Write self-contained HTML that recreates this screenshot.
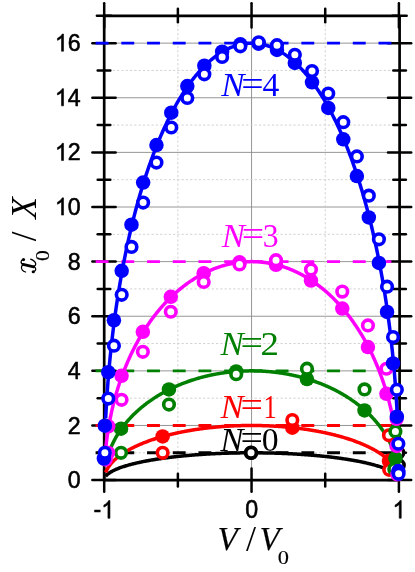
<!DOCTYPE html>
<html><head><meta charset="utf-8"><title>chart</title>
<style>html,body{margin:0;padding:0;background:#fff;}svg{display:block;will-change:transform;}</style>
</head><body>
<svg width="415" height="572" viewBox="0 0 415 572">
<rect width="415" height="572" fill="#fff"/>
<g stroke="#8a8a8a" stroke-width="0.9" fill="none"><line x1="104.20" y1="425.48" x2="398.90" y2="425.48"/><line x1="104.20" y1="370.86" x2="398.90" y2="370.86"/><line x1="104.20" y1="316.24" x2="398.90" y2="316.24"/><line x1="104.20" y1="261.62" x2="398.90" y2="261.62"/><line x1="104.20" y1="207.00" x2="398.90" y2="207.00"/><line x1="104.20" y1="152.38" x2="398.90" y2="152.38"/><line x1="104.20" y1="97.76" x2="398.90" y2="97.76"/><line x1="104.20" y1="43.14" x2="398.90" y2="43.14"/><line x1="251.55" y1="15.83" x2="251.55" y2="480.10"/></g>
<g stroke="#cccccc" stroke-width="0.9" stroke-dasharray="2.2 2.1" fill="none"><line x1="104.20" y1="452.79" x2="398.90" y2="452.79"/><line x1="104.20" y1="398.17" x2="398.90" y2="398.17"/><line x1="104.20" y1="343.55" x2="398.90" y2="343.55"/><line x1="104.20" y1="288.93" x2="398.90" y2="288.93"/><line x1="104.20" y1="234.31" x2="398.90" y2="234.31"/><line x1="104.20" y1="179.69" x2="398.90" y2="179.69"/><line x1="104.20" y1="125.07" x2="398.90" y2="125.07"/><line x1="104.20" y1="70.45" x2="398.90" y2="70.45"/><line x1="177.88" y1="15.83" x2="177.88" y2="480.10"/><line x1="325.22" y1="15.83" x2="325.22" y2="480.10"/></g>
<g stroke="#000" stroke-width="2.70" stroke-linecap="butt" fill="none"><line x1="104.20" y1="15.83" x2="104.20" y2="480.10"/><line x1="399.60" y1="15.83" x2="399.60" y2="480.10"/><line x1="104.20" y1="15.83" x2="399.60" y2="15.83"/><line x1="104.20" y1="480.10" x2="399.60" y2="480.10"/></g>
<g stroke="#000" stroke-width="2.50" stroke-linecap="round" fill="none"><line x1="92.40" y1="480.10" x2="115.60" y2="480.10"/><line x1="388.00" y1="480.10" x2="411.20" y2="480.10"/><line x1="97.70" y1="452.79" x2="110.30" y2="452.79"/><line x1="393.30" y1="452.79" x2="405.90" y2="452.79"/><line x1="92.40" y1="425.48" x2="115.60" y2="425.48"/><line x1="388.00" y1="425.48" x2="411.20" y2="425.48"/><line x1="97.70" y1="398.17" x2="110.30" y2="398.17"/><line x1="393.30" y1="398.17" x2="405.90" y2="398.17"/><line x1="92.40" y1="370.86" x2="115.60" y2="370.86"/><line x1="388.00" y1="370.86" x2="411.20" y2="370.86"/><line x1="97.70" y1="343.55" x2="110.30" y2="343.55"/><line x1="393.30" y1="343.55" x2="405.90" y2="343.55"/><line x1="92.40" y1="316.24" x2="115.60" y2="316.24"/><line x1="388.00" y1="316.24" x2="411.20" y2="316.24"/><line x1="97.70" y1="288.93" x2="110.30" y2="288.93"/><line x1="393.30" y1="288.93" x2="405.90" y2="288.93"/><line x1="92.40" y1="261.62" x2="115.60" y2="261.62"/><line x1="388.00" y1="261.62" x2="411.20" y2="261.62"/><line x1="97.70" y1="234.31" x2="110.30" y2="234.31"/><line x1="393.30" y1="234.31" x2="405.90" y2="234.31"/><line x1="92.40" y1="207.00" x2="115.60" y2="207.00"/><line x1="388.00" y1="207.00" x2="411.20" y2="207.00"/><line x1="97.70" y1="179.69" x2="110.30" y2="179.69"/><line x1="393.30" y1="179.69" x2="405.90" y2="179.69"/><line x1="92.40" y1="152.38" x2="115.60" y2="152.38"/><line x1="388.00" y1="152.38" x2="411.20" y2="152.38"/><line x1="97.70" y1="125.07" x2="110.30" y2="125.07"/><line x1="393.30" y1="125.07" x2="405.90" y2="125.07"/><line x1="92.40" y1="97.76" x2="115.60" y2="97.76"/><line x1="388.00" y1="97.76" x2="411.20" y2="97.76"/><line x1="97.70" y1="70.45" x2="110.30" y2="70.45"/><line x1="393.30" y1="70.45" x2="405.90" y2="70.45"/><line x1="92.40" y1="43.14" x2="115.60" y2="43.14"/><line x1="388.00" y1="43.14" x2="411.20" y2="43.14"/><line x1="96.90" y1="15.83" x2="111.10" y2="15.83"/><line x1="392.50" y1="15.83" x2="406.70" y2="15.83"/><line x1="104.20" y1="3.33" x2="104.20" y2="27.43"/><line x1="104.20" y1="468.50" x2="104.20" y2="491.70"/><line x1="177.88" y1="8.63" x2="177.88" y2="22.13"/><line x1="177.88" y1="473.80" x2="177.88" y2="486.40"/><line x1="251.55" y1="3.33" x2="251.55" y2="27.43"/><line x1="251.55" y1="468.50" x2="251.55" y2="491.70"/><line x1="325.22" y1="8.63" x2="325.22" y2="22.13"/><line x1="325.22" y1="473.80" x2="325.22" y2="486.40"/><line x1="398.90" y1="3.33" x2="398.90" y2="27.43"/><line x1="398.90" y1="468.50" x2="398.90" y2="491.70"/></g>
<line x1="95.60" y1="452.79" x2="403.00" y2="452.79" stroke="#000000" stroke-width="2.9" stroke-dasharray="12.9 12.82"/>
<line x1="95.60" y1="425.48" x2="403.00" y2="425.48" stroke="#ff0000" stroke-width="2.9" stroke-dasharray="12.9 12.82"/>
<line x1="95.60" y1="370.86" x2="403.00" y2="370.86" stroke="#008000" stroke-width="2.9" stroke-dasharray="12.9 12.82"/>
<line x1="95.60" y1="261.62" x2="403.00" y2="261.62" stroke="#ff00ff" stroke-width="2.9" stroke-dasharray="12.9 12.82"/>
<line x1="95.60" y1="43.14" x2="403.00" y2="43.14" stroke="#0000ff" stroke-width="2.9" stroke-dasharray="12.9 12.82"/>
<polyline points="105.67,476.25 106.40,475.40 107.13,474.68 107.86,474.05 108.59,473.48 109.32,472.96 110.05,472.48 110.78,472.03 111.51,471.61 112.24,471.20 112.97,470.82 113.70,470.45 114.43,470.10 115.16,469.77 115.88,469.44 116.61,469.13 117.34,468.83 118.07,468.53 118.80,468.25 119.53,467.97 120.26,467.70 120.99,467.44 121.72,467.18 122.45,466.94 123.18,466.69 123.91,466.46 124.64,466.22 125.37,466.00 126.10,465.78 126.83,465.56 127.55,465.35 128.28,465.14 129.01,464.93 129.74,464.73 130.47,464.54 131.20,464.34 131.93,464.15 132.66,463.97 133.39,463.78 134.12,463.60 134.85,463.43 135.58,463.25 136.31,463.08 137.04,462.91 137.77,462.75 138.50,462.58 139.23,462.42 139.95,462.27 140.68,462.11 141.41,461.96 142.14,461.81 142.87,461.66 143.60,461.51 144.33,461.37 145.06,461.22 145.79,461.08 146.52,460.95 147.25,460.81 147.98,460.67 148.71,460.54 149.44,460.41 150.17,460.28 150.90,460.15 151.62,460.03 152.35,459.91 153.08,459.78 153.81,459.66 154.54,459.54 155.27,459.43 156.00,459.31 156.73,459.20 157.46,459.08 158.19,458.97 158.92,458.86 159.65,458.75 160.38,458.65 161.11,458.54 161.84,458.44 162.57,458.33 163.29,458.23 164.02,458.13 164.75,458.03 165.48,457.93 166.21,457.84 166.94,457.74 167.67,457.65 168.40,457.55 169.13,457.46 169.86,457.37 170.59,457.28 171.32,457.19 172.05,457.11 172.78,457.02 173.51,456.94 174.24,456.85 174.96,456.77 175.69,456.69 176.42,456.61 177.15,456.53 177.88,456.45 178.61,456.37 179.34,456.29 180.07,456.22 180.80,456.14 181.53,456.07 182.26,456.00 182.99,455.93 183.72,455.86 184.45,455.79 185.18,455.72 185.91,455.65 186.63,455.58 187.36,455.52 188.09,455.45 188.82,455.39 189.55,455.33 190.28,455.26 191.01,455.20 191.74,455.14 192.47,455.08 193.20,455.02 193.93,454.96 194.66,454.91 195.39,454.85 196.12,454.80 196.85,454.74 197.58,454.69 198.31,454.64 199.03,454.58 199.76,454.53 200.49,454.48 201.22,454.43 201.95,454.38 202.68,454.34 203.41,454.29 204.14,454.24 204.87,454.20 205.60,454.15 206.33,454.11 207.06,454.06 207.79,454.02 208.52,453.98 209.25,453.94 209.98,453.90 210.70,453.86 211.43,453.82 212.16,453.78 212.89,453.75 213.62,453.71 214.35,453.67 215.08,453.64 215.81,453.61 216.54,453.57 217.27,453.54 218.00,453.51 218.73,453.48 219.46,453.45 220.19,453.42 220.92,453.39 221.65,453.36 222.37,453.33 223.10,453.30 223.83,453.28 224.56,453.25 225.29,453.23 226.02,453.20 226.75,453.18 227.48,453.16 228.21,453.13 228.94,453.11 229.67,453.09 230.40,453.07 231.13,453.05 231.86,453.04 232.59,453.02 233.32,453.00 234.04,452.98 234.77,452.97 235.50,452.95 236.23,452.94 236.96,452.92 237.69,452.91 238.42,452.90 239.15,452.89 239.88,452.88 240.61,452.87 241.34,452.86 242.07,452.85 242.80,452.84 243.53,452.83 244.26,452.82 244.99,452.82 245.71,452.81 246.44,452.81 247.17,452.80 247.90,452.80 248.63,452.80 249.36,452.79 250.09,452.79 250.82,452.79 251.55,452.79 252.28,452.79 253.01,452.79 253.74,452.79 254.47,452.80 255.20,452.80 255.93,452.80 256.66,452.81 257.39,452.81 258.11,452.82 258.84,452.82 259.57,452.83 260.30,452.84 261.03,452.85 261.76,452.86 262.49,452.87 263.22,452.88 263.95,452.89 264.68,452.90 265.41,452.91 266.14,452.92 266.87,452.94 267.60,452.95 268.33,452.97 269.06,452.98 269.78,453.00 270.51,453.02 271.24,453.04 271.97,453.05 272.70,453.07 273.43,453.09 274.16,453.11 274.89,453.13 275.62,453.16 276.35,453.18 277.08,453.20 277.81,453.23 278.54,453.25 279.27,453.28 280.00,453.30 280.73,453.33 281.45,453.36 282.18,453.39 282.91,453.42 283.64,453.45 284.37,453.48 285.10,453.51 285.83,453.54 286.56,453.57 287.29,453.61 288.02,453.64 288.75,453.67 289.48,453.71 290.21,453.75 290.94,453.78 291.67,453.82 292.40,453.86 293.12,453.90 293.85,453.94 294.58,453.98 295.31,454.02 296.04,454.06 296.77,454.11 297.50,454.15 298.23,454.20 298.96,454.24 299.69,454.29 300.42,454.34 301.15,454.38 301.88,454.43 302.61,454.48 303.34,454.53 304.07,454.58 304.79,454.64 305.52,454.69 306.25,454.74 306.98,454.80 307.71,454.85 308.44,454.91 309.17,454.96 309.90,455.02 310.63,455.08 311.36,455.14 312.09,455.20 312.82,455.26 313.55,455.33 314.28,455.39 315.01,455.45 315.74,455.52 316.47,455.58 317.19,455.65 317.92,455.72 318.65,455.79 319.38,455.86 320.11,455.93 320.84,456.00 321.57,456.07 322.30,456.14 323.03,456.22 323.76,456.29 324.49,456.37 325.22,456.45 325.95,456.53 326.68,456.61 327.41,456.69 328.14,456.77 328.86,456.85 329.59,456.94 330.32,457.02 331.05,457.11 331.78,457.19 332.51,457.28 333.24,457.37 333.97,457.46 334.70,457.55 335.43,457.65 336.16,457.74 336.89,457.84 337.62,457.93 338.35,458.03 339.08,458.13 339.81,458.23 340.53,458.33 341.26,458.44 341.99,458.54 342.72,458.65 343.45,458.75 344.18,458.86 344.91,458.97 345.64,459.08 346.37,459.20 347.10,459.31 347.83,459.43 348.56,459.54 349.29,459.66 350.02,459.78 350.75,459.91 351.48,460.03 352.20,460.15 352.93,460.28 353.66,460.41 354.39,460.54 355.12,460.67 355.85,460.81 356.58,460.95 357.31,461.08 358.04,461.22 358.77,461.37 359.50,461.51 360.23,461.66 360.96,461.81 361.69,461.96 362.42,462.11 363.15,462.27 363.87,462.42 364.60,462.58 365.33,462.75 366.06,462.91 366.79,463.08 367.52,463.25 368.25,463.43 368.98,463.60 369.71,463.78 370.44,463.97 371.17,464.15 371.90,464.34 372.63,464.54 373.36,464.73 374.09,464.93 374.82,465.14 375.55,465.35 376.27,465.56 377.00,465.78 377.73,466.00 378.46,466.22 379.19,466.46 379.92,466.69 380.65,466.94 381.38,467.18 382.11,467.44 382.84,467.70 383.57,467.97 384.30,468.25 385.03,468.53 385.76,468.83 386.49,469.13 387.22,469.44 387.94,469.77 388.67,470.10 389.40,470.45 390.13,470.82 390.86,471.20 391.59,471.61 392.32,472.03 393.05,472.48 393.78,472.96 394.51,473.48 395.24,474.05 395.97,474.68 396.70,475.40 397.43,476.25" fill="none" stroke="#000000" stroke-width="3.5" stroke-linejoin="round" stroke-linecap="butt"/>
<polyline points="105.67,472.39 106.40,470.69 107.13,469.26 107.86,468.00 108.59,466.87 109.32,465.83 110.05,464.86 110.78,463.96 111.51,463.11 112.24,462.31 112.97,461.54 113.70,460.81 114.43,460.11 115.16,459.43 115.88,458.78 116.61,458.16 117.34,457.55 118.07,456.96 118.80,456.39 119.53,455.84 120.26,455.30 120.99,454.78 121.72,454.27 122.45,453.77 123.18,453.29 123.91,452.81 124.64,452.35 125.37,451.89 126.10,451.45 126.83,451.02 127.55,450.59 128.28,450.17 129.01,449.77 129.74,449.36 130.47,448.97 131.20,448.58 131.93,448.21 132.66,447.83 133.39,447.47 134.12,447.11 134.85,446.75 135.58,446.41 136.31,446.06 137.04,445.73 137.77,445.40 138.50,445.07 139.23,444.75 139.95,444.43 140.68,444.12 141.41,443.81 142.14,443.51 142.87,443.22 143.60,442.92 144.33,442.63 145.06,442.35 145.79,442.07 146.52,441.79 147.25,441.52 147.98,441.25 148.71,440.98 149.44,440.72 150.17,440.46 150.90,440.21 151.62,439.96 152.35,439.71 153.08,439.47 153.81,439.22 154.54,438.99 155.27,438.75 156.00,438.52 156.73,438.29 157.46,438.07 158.19,437.84 158.92,437.62 159.65,437.41 160.38,437.19 161.11,436.98 161.84,436.77 162.57,436.56 163.29,436.36 164.02,436.16 164.75,435.96 165.48,435.77 166.21,435.57 166.94,435.38 167.67,435.19 168.40,435.01 169.13,434.82 169.86,434.64 170.59,434.46 171.32,434.29 172.05,434.11 172.78,433.94 173.51,433.77 174.24,433.60 174.96,433.44 175.69,433.27 176.42,433.11 177.15,432.95 177.88,432.80 178.61,432.64 179.34,432.49 180.07,432.34 180.80,432.19 181.53,432.04 182.26,431.90 182.99,431.75 183.72,431.61 184.45,431.47 185.18,431.34 185.91,431.20 186.63,431.07 187.36,430.93 188.09,430.80 188.82,430.68 189.55,430.55 190.28,430.43 191.01,430.30 191.74,430.18 192.47,430.06 193.20,429.95 193.93,429.83 194.66,429.72 195.39,429.60 196.12,429.49 196.85,429.38 197.58,429.28 198.31,429.17 199.03,429.07 199.76,428.96 200.49,428.86 201.22,428.76 201.95,428.67 202.68,428.57 203.41,428.48 204.14,428.38 204.87,428.29 205.60,428.20 206.33,428.12 207.06,428.03 207.79,427.94 208.52,427.86 209.25,427.78 209.98,427.70 210.70,427.62 211.43,427.54 212.16,427.47 212.89,427.39 213.62,427.32 214.35,427.25 215.08,427.18 215.81,427.11 216.54,427.04 217.27,426.98 218.00,426.91 218.73,426.85 219.46,426.79 220.19,426.73 220.92,426.67 221.65,426.62 222.37,426.56 223.10,426.51 223.83,426.45 224.56,426.40 225.29,426.35 226.02,426.31 226.75,426.26 227.48,426.21 228.21,426.17 228.94,426.13 229.67,426.09 230.40,426.05 231.13,426.01 231.86,425.97 232.59,425.93 233.32,425.90 234.04,425.87 234.77,425.84 235.50,425.80 236.23,425.78 236.96,425.75 237.69,425.72 238.42,425.70 239.15,425.67 239.88,425.65 240.61,425.63 241.34,425.61 242.07,425.59 242.80,425.58 243.53,425.56 244.26,425.55 244.99,425.53 245.71,425.52 246.44,425.51 247.17,425.50 247.90,425.50 248.63,425.49 249.36,425.49 250.09,425.48 250.82,425.48 251.55,425.48 252.28,425.48 253.01,425.48 253.74,425.49 254.47,425.49 255.20,425.50 255.93,425.50 256.66,425.51 257.39,425.52 258.11,425.53 258.84,425.55 259.57,425.56 260.30,425.58 261.03,425.59 261.76,425.61 262.49,425.63 263.22,425.65 263.95,425.67 264.68,425.70 265.41,425.72 266.14,425.75 266.87,425.78 267.60,425.80 268.33,425.84 269.06,425.87 269.78,425.90 270.51,425.93 271.24,425.97 271.97,426.01 272.70,426.05 273.43,426.09 274.16,426.13 274.89,426.17 275.62,426.21 276.35,426.26 277.08,426.31 277.81,426.35 278.54,426.40 279.27,426.45 280.00,426.51 280.73,426.56 281.45,426.62 282.18,426.67 282.91,426.73 283.64,426.79 284.37,426.85 285.10,426.91 285.83,426.98 286.56,427.04 287.29,427.11 288.02,427.18 288.75,427.25 289.48,427.32 290.21,427.39 290.94,427.47 291.67,427.54 292.40,427.62 293.12,427.70 293.85,427.78 294.58,427.86 295.31,427.94 296.04,428.03 296.77,428.12 297.50,428.20 298.23,428.29 298.96,428.38 299.69,428.48 300.42,428.57 301.15,428.67 301.88,428.76 302.61,428.86 303.34,428.96 304.07,429.07 304.79,429.17 305.52,429.28 306.25,429.38 306.98,429.49 307.71,429.60 308.44,429.72 309.17,429.83 309.90,429.95 310.63,430.06 311.36,430.18 312.09,430.30 312.82,430.43 313.55,430.55 314.28,430.68 315.01,430.80 315.74,430.93 316.47,431.07 317.19,431.20 317.92,431.34 318.65,431.47 319.38,431.61 320.11,431.75 320.84,431.90 321.57,432.04 322.30,432.19 323.03,432.34 323.76,432.49 324.49,432.64 325.22,432.80 325.95,432.95 326.68,433.11 327.41,433.27 328.14,433.44 328.86,433.60 329.59,433.77 330.32,433.94 331.05,434.11 331.78,434.29 332.51,434.46 333.24,434.64 333.97,434.82 334.70,435.01 335.43,435.19 336.16,435.38 336.89,435.57 337.62,435.77 338.35,435.96 339.08,436.16 339.81,436.36 340.53,436.56 341.26,436.77 341.99,436.98 342.72,437.19 343.45,437.41 344.18,437.62 344.91,437.84 345.64,438.07 346.37,438.29 347.10,438.52 347.83,438.75 348.56,438.99 349.29,439.22 350.02,439.47 350.75,439.71 351.48,439.96 352.20,440.21 352.93,440.46 353.66,440.72 354.39,440.98 355.12,441.25 355.85,441.52 356.58,441.79 357.31,442.07 358.04,442.35 358.77,442.63 359.50,442.92 360.23,443.22 360.96,443.51 361.69,443.81 362.42,444.12 363.15,444.43 363.87,444.75 364.60,445.07 365.33,445.40 366.06,445.73 366.79,446.06 367.52,446.41 368.25,446.75 368.98,447.11 369.71,447.47 370.44,447.83 371.17,448.21 371.90,448.58 372.63,448.97 373.36,449.36 374.09,449.77 374.82,450.17 375.55,450.59 376.27,451.02 377.00,451.45 377.73,451.89 378.46,452.35 379.19,452.81 379.92,453.29 380.65,453.77 381.38,454.27 382.11,454.78 382.84,455.30 383.57,455.84 384.30,456.39 385.03,456.96 385.76,457.55 386.49,458.16 387.22,458.78 387.94,459.43 388.67,460.11 389.40,460.81 390.13,461.54 390.86,462.31 391.59,463.11 392.32,463.96 393.05,464.86 393.78,465.83 394.51,466.87 395.24,468.00 395.97,469.26 396.70,470.69 397.43,472.39" fill="none" stroke="#ff0000" stroke-width="3.5" stroke-linejoin="round" stroke-linecap="butt"/>
<polyline points="105.67,464.69 106.40,461.28 107.13,458.42 107.86,455.90 108.59,453.63 109.32,451.55 110.05,449.63 110.78,447.82 111.51,446.12 112.24,444.51 112.97,442.98 113.70,441.52 114.43,440.11 115.16,438.77 115.88,437.47 116.61,436.21 117.34,435.00 118.07,433.83 118.80,432.69 119.53,431.58 120.26,430.50 120.99,429.46 121.72,428.44 122.45,427.44 123.18,426.47 123.91,425.52 124.64,424.60 125.37,423.69 126.10,422.80 126.83,421.93 127.55,421.08 128.28,420.25 129.01,419.43 129.74,418.63 130.47,417.84 131.20,417.07 131.93,416.31 132.66,415.57 133.39,414.83 134.12,414.11 134.85,413.41 135.58,412.71 136.31,412.03 137.04,411.35 137.77,410.69 138.50,410.04 139.23,409.40 139.95,408.77 140.68,408.14 141.41,407.53 142.14,406.93 142.87,406.33 143.60,405.74 144.33,405.17 145.06,404.60 145.79,404.04 146.52,403.48 147.25,402.94 147.98,402.40 148.71,401.87 149.44,401.34 150.17,400.83 150.90,400.32 151.62,399.82 152.35,399.32 153.08,398.83 153.81,398.35 154.54,397.87 155.27,397.40 156.00,396.94 156.73,396.48 157.46,396.03 158.19,395.59 158.92,395.15 159.65,394.71 160.38,394.28 161.11,393.86 161.84,393.44 162.57,393.03 163.29,392.62 164.02,392.22 164.75,391.82 165.48,391.43 166.21,391.05 166.94,390.66 167.67,390.29 168.40,389.91 169.13,389.55 169.86,389.18 170.59,388.83 171.32,388.47 172.05,388.12 172.78,387.78 173.51,387.44 174.24,387.11 174.96,386.77 175.69,386.45 176.42,386.12 177.15,385.81 177.88,385.49 178.61,385.18 179.34,384.88 180.07,384.57 180.80,384.28 181.53,383.98 182.26,383.69 182.99,383.41 183.72,383.12 184.45,382.85 185.18,382.57 185.91,382.30 186.63,382.03 187.36,381.77 188.09,381.51 188.82,381.25 189.55,381.00 190.28,380.75 191.01,380.51 191.74,380.26 192.47,380.03 193.20,379.79 193.93,379.56 194.66,379.33 195.39,379.11 196.12,378.88 196.85,378.67 197.58,378.45 198.31,378.24 199.03,378.03 199.76,377.83 200.49,377.63 201.22,377.43 201.95,377.23 202.68,377.04 203.41,376.85 204.14,376.67 204.87,376.49 205.60,376.31 206.33,376.13 207.06,375.96 207.79,375.79 208.52,375.62 209.25,375.46 209.98,375.30 210.70,375.14 211.43,374.99 212.16,374.83 212.89,374.69 213.62,374.54 214.35,374.40 215.08,374.26 215.81,374.12 216.54,373.99 217.27,373.86 218.00,373.73 218.73,373.60 219.46,373.48 220.19,373.36 220.92,373.25 221.65,373.13 222.37,373.02 223.10,372.91 223.83,372.81 224.56,372.71 225.29,372.61 226.02,372.51 226.75,372.42 227.48,372.33 228.21,372.24 228.94,372.15 229.67,372.07 230.40,371.99 231.13,371.91 231.86,371.84 232.59,371.77 233.32,371.70 234.04,371.63 234.77,371.57 235.50,371.51 236.23,371.45 236.96,371.40 237.69,371.34 238.42,371.29 239.15,371.25 239.88,371.20 240.61,371.16 241.34,371.12 242.07,371.09 242.80,371.05 243.53,371.02 244.26,370.99 244.99,370.97 245.71,370.95 246.44,370.93 247.17,370.91 247.90,370.89 248.63,370.88 249.36,370.87 250.09,370.87 250.82,370.86 251.55,370.86 252.28,370.86 253.01,370.87 253.74,370.87 254.47,370.88 255.20,370.89 255.93,370.91 256.66,370.93 257.39,370.95 258.11,370.97 258.84,370.99 259.57,371.02 260.30,371.05 261.03,371.09 261.76,371.12 262.49,371.16 263.22,371.20 263.95,371.25 264.68,371.29 265.41,371.34 266.14,371.40 266.87,371.45 267.60,371.51 268.33,371.57 269.06,371.63 269.78,371.70 270.51,371.77 271.24,371.84 271.97,371.91 272.70,371.99 273.43,372.07 274.16,372.15 274.89,372.24 275.62,372.33 276.35,372.42 277.08,372.51 277.81,372.61 278.54,372.71 279.27,372.81 280.00,372.91 280.73,373.02 281.45,373.13 282.18,373.25 282.91,373.36 283.64,373.48 284.37,373.60 285.10,373.73 285.83,373.86 286.56,373.99 287.29,374.12 288.02,374.26 288.75,374.40 289.48,374.54 290.21,374.69 290.94,374.83 291.67,374.99 292.40,375.14 293.12,375.30 293.85,375.46 294.58,375.62 295.31,375.79 296.04,375.96 296.77,376.13 297.50,376.31 298.23,376.49 298.96,376.67 299.69,376.85 300.42,377.04 301.15,377.23 301.88,377.43 302.61,377.63 303.34,377.83 304.07,378.03 304.79,378.24 305.52,378.45 306.25,378.67 306.98,378.88 307.71,379.11 308.44,379.33 309.17,379.56 309.90,379.79 310.63,380.03 311.36,380.26 312.09,380.51 312.82,380.75 313.55,381.00 314.28,381.25 315.01,381.51 315.74,381.77 316.47,382.03 317.19,382.30 317.92,382.57 318.65,382.85 319.38,383.12 320.11,383.41 320.84,383.69 321.57,383.98 322.30,384.28 323.03,384.57 323.76,384.88 324.49,385.18 325.22,385.49 325.95,385.81 326.68,386.12 327.41,386.45 328.14,386.77 328.86,387.11 329.59,387.44 330.32,387.78 331.05,388.12 331.78,388.47 332.51,388.83 333.24,389.18 333.97,389.55 334.70,389.91 335.43,390.29 336.16,390.66 336.89,391.05 337.62,391.43 338.35,391.82 339.08,392.22 339.81,392.62 340.53,393.03 341.26,393.44 341.99,393.86 342.72,394.28 343.45,394.71 344.18,395.15 344.91,395.59 345.64,396.03 346.37,396.48 347.10,396.94 347.83,397.40 348.56,397.87 349.29,398.35 350.02,398.83 350.75,399.32 351.48,399.82 352.20,400.32 352.93,400.83 353.66,401.34 354.39,401.87 355.12,402.40 355.85,402.94 356.58,403.48 357.31,404.04 358.04,404.60 358.77,405.17 359.50,405.74 360.23,406.33 360.96,406.93 361.69,407.53 362.42,408.14 363.15,408.77 363.87,409.40 364.60,410.04 365.33,410.69 366.06,411.35 366.79,412.03 367.52,412.71 368.25,413.41 368.98,414.11 369.71,414.83 370.44,415.57 371.17,416.31 371.90,417.07 372.63,417.84 373.36,418.63 374.09,419.43 374.82,420.25 375.55,421.08 376.27,421.93 377.00,422.80 377.73,423.69 378.46,424.60 379.19,425.52 379.92,426.47 380.65,427.44 381.38,428.44 382.11,429.46 382.84,430.50 383.57,431.58 384.30,432.69 385.03,433.83 385.76,435.00 386.49,436.21 387.22,437.47 387.94,438.77 388.67,440.11 389.40,441.52 390.13,442.98 390.86,444.51 391.59,446.12 392.32,447.82 393.05,449.63 393.78,451.55 394.51,453.63 395.24,455.90 395.97,458.42 396.70,461.28 397.43,464.69" fill="none" stroke="#008000" stroke-width="3.5" stroke-linejoin="round" stroke-linecap="butt"/>
<polyline points="105.67,449.28 106.40,442.46 107.13,436.73 107.86,431.70 108.59,427.16 109.32,423.01 110.05,419.15 110.78,415.54 111.51,412.15 112.24,408.93 112.97,405.86 113.70,402.93 114.43,400.13 115.16,397.43 115.88,394.83 116.61,392.33 117.34,389.90 118.07,387.55 118.80,385.27 119.53,383.06 120.26,380.91 120.99,378.81 121.72,376.77 122.45,374.78 123.18,372.84 123.91,370.95 124.64,369.09 125.37,367.28 126.10,365.50 126.83,363.77 127.55,362.06 128.28,360.40 129.01,358.76 129.74,357.16 130.47,355.58 131.20,354.04 131.93,352.52 132.66,351.03 133.39,349.57 134.12,348.13 134.85,346.71 135.58,345.32 136.31,343.95 137.04,342.61 137.77,341.28 138.50,339.98 139.23,338.69 139.95,337.43 140.68,336.19 141.41,334.96 142.14,333.75 142.87,332.56 143.60,331.39 144.33,330.23 145.06,329.09 145.79,327.97 146.52,326.87 147.25,325.77 147.98,324.70 148.71,323.64 149.44,322.59 150.17,321.56 150.90,320.54 151.62,319.53 152.35,318.54 153.08,317.56 153.81,316.60 154.54,315.65 155.27,314.71 156.00,313.78 156.73,312.87 157.46,311.96 158.19,311.07 158.92,310.19 159.65,309.32 160.38,308.46 161.11,307.62 161.84,306.78 162.57,305.96 163.29,305.14 164.02,304.34 164.75,303.55 165.48,302.76 166.21,301.99 166.94,301.23 167.67,300.47 168.40,299.73 169.13,299.00 169.86,298.27 170.59,297.55 171.32,296.85 172.05,296.15 172.78,295.46 173.51,294.78 174.24,294.11 174.96,293.45 175.69,292.79 176.42,292.15 177.15,291.51 177.88,290.88 178.61,290.26 179.34,289.65 180.07,289.05 180.80,288.45 181.53,287.86 182.26,287.28 182.99,286.71 183.72,286.15 184.45,285.59 185.18,285.04 185.91,284.50 186.63,283.96 187.36,283.44 188.09,282.92 188.82,282.41 189.55,281.90 190.28,281.40 191.01,280.91 191.74,280.43 192.47,279.95 193.20,279.48 193.93,279.02 194.66,278.56 195.39,278.11 196.12,277.67 196.85,277.23 197.58,276.81 198.31,276.38 199.03,275.97 199.76,275.56 200.49,275.15 201.22,274.76 201.95,274.37 202.68,273.99 203.41,273.61 204.14,273.24 204.87,272.87 205.60,272.52 206.33,272.16 207.06,271.82 207.79,271.48 208.52,271.15 209.25,270.82 209.98,270.50 210.70,270.18 211.43,269.87 212.16,269.57 212.89,269.27 213.62,268.98 214.35,268.70 215.08,268.42 215.81,268.14 216.54,267.88 217.27,267.61 218.00,267.36 218.73,267.11 219.46,266.86 220.19,266.63 220.92,266.39 221.65,266.17 222.37,265.95 223.10,265.73 223.83,265.52 224.56,265.32 225.29,265.12 226.02,264.92 226.75,264.74 227.48,264.55 228.21,264.38 228.94,264.21 229.67,264.04 230.40,263.88 231.13,263.73 231.86,263.58 232.59,263.44 233.32,263.30 234.04,263.17 234.77,263.04 235.50,262.92 236.23,262.80 236.96,262.69 237.69,262.59 238.42,262.49 239.15,262.39 239.88,262.31 240.61,262.22 241.34,262.15 242.07,262.07 242.80,262.01 243.53,261.94 244.26,261.89 244.99,261.84 245.71,261.79 246.44,261.75 247.17,261.72 247.90,261.69 248.63,261.66 249.36,261.64 250.09,261.63 250.82,261.62 251.55,261.62 252.28,261.62 253.01,261.63 253.74,261.64 254.47,261.66 255.20,261.69 255.93,261.72 256.66,261.75 257.39,261.79 258.11,261.84 258.84,261.89 259.57,261.94 260.30,262.01 261.03,262.07 261.76,262.15 262.49,262.22 263.22,262.31 263.95,262.39 264.68,262.49 265.41,262.59 266.14,262.69 266.87,262.80 267.60,262.92 268.33,263.04 269.06,263.17 269.78,263.30 270.51,263.44 271.24,263.58 271.97,263.73 272.70,263.88 273.43,264.04 274.16,264.21 274.89,264.38 275.62,264.55 276.35,264.74 277.08,264.92 277.81,265.12 278.54,265.32 279.27,265.52 280.00,265.73 280.73,265.95 281.45,266.17 282.18,266.39 282.91,266.63 283.64,266.86 284.37,267.11 285.10,267.36 285.83,267.61 286.56,267.88 287.29,268.14 288.02,268.42 288.75,268.70 289.48,268.98 290.21,269.27 290.94,269.57 291.67,269.87 292.40,270.18 293.12,270.50 293.85,270.82 294.58,271.15 295.31,271.48 296.04,271.82 296.77,272.16 297.50,272.52 298.23,272.87 298.96,273.24 299.69,273.61 300.42,273.99 301.15,274.37 301.88,274.76 302.61,275.15 303.34,275.56 304.07,275.97 304.79,276.38 305.52,276.81 306.25,277.23 306.98,277.67 307.71,278.11 308.44,278.56 309.17,279.02 309.90,279.48 310.63,279.95 311.36,280.43 312.09,280.91 312.82,281.40 313.55,281.90 314.28,282.41 315.01,282.92 315.74,283.44 316.47,283.96 317.19,284.50 317.92,285.04 318.65,285.59 319.38,286.15 320.11,286.71 320.84,287.28 321.57,287.86 322.30,288.45 323.03,289.05 323.76,289.65 324.49,290.26 325.22,290.88 325.95,291.51 326.68,292.15 327.41,292.79 328.14,293.45 328.86,294.11 329.59,294.78 330.32,295.46 331.05,296.15 331.78,296.85 332.51,297.55 333.24,298.27 333.97,299.00 334.70,299.73 335.43,300.47 336.16,301.23 336.89,301.99 337.62,302.76 338.35,303.55 339.08,304.34 339.81,305.14 340.53,305.96 341.26,306.78 341.99,307.62 342.72,308.46 343.45,309.32 344.18,310.19 344.91,311.07 345.64,311.96 346.37,312.87 347.10,313.78 347.83,314.71 348.56,315.65 349.29,316.60 350.02,317.56 350.75,318.54 351.48,319.53 352.20,320.54 352.93,321.56 353.66,322.59 354.39,323.64 355.12,324.70 355.85,325.77 356.58,326.87 357.31,327.97 358.04,329.09 358.77,330.23 359.50,331.39 360.23,332.56 360.96,333.75 361.69,334.96 362.42,336.19 363.15,337.43 363.87,338.69 364.60,339.98 365.33,341.28 366.06,342.61 366.79,343.95 367.52,345.32 368.25,346.71 368.98,348.13 369.71,349.57 370.44,351.03 371.17,352.52 371.90,354.04 372.63,355.58 373.36,357.16 374.09,358.76 374.82,360.40 375.55,362.06 376.27,363.77 377.00,365.50 377.73,367.28 378.46,369.09 379.19,370.95 379.92,372.84 380.65,374.78 381.38,376.77 382.11,378.81 382.84,380.91 383.57,383.06 384.30,385.27 385.03,387.55 385.76,389.90 386.49,392.33 387.22,394.83 387.94,397.43 388.67,400.13 389.40,402.93 390.13,405.86 390.86,408.93 391.59,412.15 392.32,415.54 393.05,419.15 393.78,423.01 394.51,427.16 395.24,431.70 395.97,436.73 396.70,442.46 397.43,449.28" fill="none" stroke="#ff00ff" stroke-width="3.5" stroke-linejoin="round" stroke-linecap="butt"/>
<polyline points="105.67,418.46 106.40,404.83 107.13,393.36 107.86,383.29 108.59,374.22 109.32,365.91 110.05,358.20 110.78,350.99 111.51,344.19 112.24,337.75 112.97,331.62 113.70,325.77 114.43,320.16 115.16,314.76 115.88,309.57 116.61,304.55 117.34,299.70 118.07,295.00 118.80,290.45 119.53,286.02 120.26,281.72 120.99,277.53 121.72,273.45 122.45,269.47 123.18,265.58 123.91,261.79 124.64,258.08 125.37,254.46 126.10,250.91 126.83,247.43 127.55,244.03 128.28,240.69 129.01,237.42 129.74,234.22 130.47,231.07 131.20,227.98 131.93,224.94 132.66,221.96 133.39,219.03 134.12,216.16 134.85,213.33 135.58,210.54 136.31,207.81 137.04,205.11 137.77,202.46 138.50,199.86 139.23,197.29 139.95,194.76 140.68,192.27 141.41,189.82 142.14,187.40 142.87,185.02 143.60,182.68 144.33,180.37 145.06,178.09 145.79,175.84 146.52,173.63 147.25,171.45 147.98,169.30 148.71,167.17 149.44,165.08 150.17,163.01 150.90,160.98 151.62,158.97 152.35,156.99 153.08,155.03 153.81,153.10 154.54,151.19 155.27,149.32 156.00,147.46 156.73,145.63 157.46,143.82 158.19,142.04 158.92,140.28 159.65,138.54 160.38,136.83 161.11,135.14 161.84,133.47 162.57,131.82 163.29,130.19 164.02,128.58 164.75,126.99 165.48,125.43 166.21,123.88 166.94,122.35 167.67,120.85 168.40,119.36 169.13,117.89 169.86,116.44 170.59,115.01 171.32,113.60 172.05,112.20 172.78,110.82 173.51,109.46 174.24,108.12 174.96,106.80 175.69,105.49 176.42,104.20 177.15,102.93 177.88,101.67 178.61,100.43 179.34,99.20 180.07,98.00 180.80,96.80 181.53,95.63 182.26,94.47 182.99,93.32 183.72,92.19 184.45,91.08 185.18,89.98 185.91,88.90 186.63,87.83 187.36,86.77 188.09,85.74 188.82,84.71 189.55,83.70 190.28,82.70 191.01,81.72 191.74,80.75 192.47,79.80 193.20,78.86 193.93,77.94 194.66,77.02 195.39,76.12 196.12,75.24 196.85,74.37 197.58,73.51 198.31,72.67 199.03,71.83 199.76,71.02 200.49,70.21 201.22,69.42 201.95,68.64 202.68,67.87 203.41,67.12 204.14,66.38 204.87,65.65 205.60,64.93 206.33,64.23 207.06,63.54 207.79,62.86 208.52,62.19 209.25,61.54 209.98,60.89 210.70,60.26 211.43,59.65 212.16,59.04 212.89,58.45 213.62,57.86 214.35,57.29 215.08,56.73 215.81,56.19 216.54,55.65 217.27,55.13 218.00,54.62 218.73,54.12 219.46,53.63 220.19,53.15 220.92,52.69 221.65,52.23 222.37,51.79 223.10,51.36 223.83,50.94 224.56,50.53 225.29,50.13 226.02,49.75 226.75,49.37 227.48,49.01 228.21,48.66 228.94,48.32 229.67,47.98 230.40,47.67 231.13,47.36 231.86,47.06 232.59,46.77 233.32,46.50 234.04,46.23 234.77,45.98 235.50,45.74 236.23,45.51 236.96,45.29 237.69,45.08 238.42,44.88 239.15,44.69 239.88,44.51 240.61,44.35 241.34,44.19 242.07,44.05 242.80,43.91 243.53,43.79 244.26,43.68 244.99,43.57 245.71,43.48 246.44,43.40 247.17,43.33 247.90,43.27 248.63,43.23 249.36,43.19 250.09,43.16 250.82,43.15 251.55,43.14 252.28,43.15 253.01,43.16 253.74,43.19 254.47,43.23 255.20,43.27 255.93,43.33 256.66,43.40 257.39,43.48 258.11,43.57 258.84,43.68 259.57,43.79 260.30,43.91 261.03,44.05 261.76,44.19 262.49,44.35 263.22,44.51 263.95,44.69 264.68,44.88 265.41,45.08 266.14,45.29 266.87,45.51 267.60,45.74 268.33,45.98 269.06,46.23 269.78,46.50 270.51,46.77 271.24,47.06 271.97,47.36 272.70,47.67 273.43,47.98 274.16,48.32 274.89,48.66 275.62,49.01 276.35,49.37 277.08,49.75 277.81,50.13 278.54,50.53 279.27,50.94 280.00,51.36 280.73,51.79 281.45,52.23 282.18,52.69 282.91,53.15 283.64,53.63 284.37,54.12 285.10,54.62 285.83,55.13 286.56,55.65 287.29,56.19 288.02,56.73 288.75,57.29 289.48,57.86 290.21,58.45 290.94,59.04 291.67,59.65 292.40,60.26 293.12,60.89 293.85,61.54 294.58,62.19 295.31,62.86 296.04,63.54 296.77,64.23 297.50,64.93 298.23,65.65 298.96,66.38 299.69,67.12 300.42,67.87 301.15,68.64 301.88,69.42 302.61,70.21 303.34,71.02 304.07,71.83 304.79,72.67 305.52,73.51 306.25,74.37 306.98,75.24 307.71,76.12 308.44,77.02 309.17,77.94 309.90,78.86 310.63,79.80 311.36,80.75 312.09,81.72 312.82,82.70 313.55,83.70 314.28,84.71 315.01,85.74 315.74,86.77 316.47,87.83 317.19,88.90 317.92,89.98 318.65,91.08 319.38,92.19 320.11,93.32 320.84,94.47 321.57,95.63 322.30,96.80 323.03,98.00 323.76,99.20 324.49,100.43 325.22,101.67 325.95,102.93 326.68,104.20 327.41,105.49 328.14,106.80 328.86,108.12 329.59,109.46 330.32,110.82 331.05,112.20 331.78,113.60 332.51,115.01 333.24,116.44 333.97,117.89 334.70,119.36 335.43,120.85 336.16,122.35 336.89,123.88 337.62,125.43 338.35,126.99 339.08,128.58 339.81,130.19 340.53,131.82 341.26,133.47 341.99,135.14 342.72,136.83 343.45,138.54 344.18,140.28 344.91,142.04 345.64,143.82 346.37,145.63 347.10,147.46 347.83,149.32 348.56,151.19 349.29,153.10 350.02,155.03 350.75,156.99 351.48,158.97 352.20,160.98 352.93,163.01 353.66,165.08 354.39,167.17 355.12,169.30 355.85,171.45 356.58,173.63 357.31,175.84 358.04,178.09 358.77,180.37 359.50,182.68 360.23,185.02 360.96,187.40 361.69,189.82 362.42,192.27 363.15,194.76 363.87,197.29 364.60,199.86 365.33,202.46 366.06,205.11 366.79,207.81 367.52,210.54 368.25,213.33 368.98,216.16 369.71,219.03 370.44,221.96 371.17,224.94 371.90,227.98 372.63,231.07 373.36,234.22 374.09,237.42 374.82,240.69 375.55,244.03 376.27,247.43 377.00,250.91 377.73,254.46 378.46,258.08 379.19,261.79 379.92,265.58 380.65,269.47 381.38,273.45 382.11,277.53 382.84,281.72 383.57,286.02 384.30,290.45 385.03,295.00 385.76,299.70 386.49,304.55 387.22,309.57 387.94,314.76 388.67,320.16 389.40,325.77 390.13,331.62 390.86,337.75 391.59,344.19 392.32,350.99 393.05,358.20 393.78,365.91 394.51,374.22 395.24,383.29 395.97,393.36 396.70,404.83 397.43,418.46" fill="none" stroke="#0000ff" stroke-width="3.5" stroke-linejoin="round" stroke-linecap="butt"/>
<circle cx="251.05" cy="452.79" r="7.25" fill="#000000"/>
<circle cx="251.05" cy="452.79" r="5.30" fill="#fff" stroke="#000000" stroke-width="3.60"/>
<circle cx="398.40" cy="452.79" r="5.30" fill="#fff" stroke="#000000" stroke-width="3.60"/>
<circle cx="398.80" cy="465.20" r="5.30" fill="#fff" stroke="#000000" stroke-width="3.60"/>
<circle cx="162.64" cy="436.40" r="7.25" fill="#ff0000"/>
<circle cx="292.31" cy="427.66" r="7.25" fill="#ff0000"/>
<circle cx="388.97" cy="460.87" r="7.25" fill="#ff0000"/>
<circle cx="162.64" cy="452.79" r="5.30" fill="#fff" stroke="#ff0000" stroke-width="3.60"/>
<circle cx="292.31" cy="420.02" r="5.30" fill="#fff" stroke="#ff0000" stroke-width="3.60"/>
<circle cx="388.97" cy="435.31" r="5.30" fill="#fff" stroke="#ff0000" stroke-width="3.60"/>
<circle cx="389.20" cy="469.80" r="5.30" fill="#fff" stroke="#ff0000" stroke-width="3.60"/>
<circle cx="121.04" cy="428.69" r="7.25" fill="#008000"/>
<circle cx="168.96" cy="389.38" r="7.25" fill="#008000"/>
<circle cx="236.20" cy="371.42" r="7.25" fill="#008000"/>
<circle cx="306.94" cy="379.02" r="7.25" fill="#008000"/>
<circle cx="364.52" cy="410.41" r="7.25" fill="#008000"/>
<circle cx="395.41" cy="458.20" r="7.25" fill="#008000"/>
<circle cx="121.04" cy="452.79" r="5.30" fill="#fff" stroke="#008000" stroke-width="3.60"/>
<circle cx="168.96" cy="404.60" r="5.30" fill="#fff" stroke="#008000" stroke-width="3.60"/>
<circle cx="236.20" cy="374.17" r="5.30" fill="#fff" stroke="#008000" stroke-width="3.60"/>
<circle cx="306.94" cy="368.66" r="5.30" fill="#fff" stroke="#008000" stroke-width="3.60"/>
<circle cx="364.52" cy="389.38" r="5.30" fill="#fff" stroke="#008000" stroke-width="3.60"/>
<circle cx="395.41" cy="431.44" r="5.30" fill="#fff" stroke="#008000" stroke-width="3.60"/>
<circle cx="394.30" cy="468.90" r="5.30" fill="#fff" stroke="#008000" stroke-width="3.60"/>
<circle cx="105.60" cy="459.40" r="7.25" fill="#ff00ff"/>
<circle cx="108.23" cy="426.32" r="7.25" fill="#ff00ff"/>
<circle cx="121.56" cy="375.85" r="7.25" fill="#ff00ff"/>
<circle cx="142.85" cy="331.80" r="7.25" fill="#ff00ff"/>
<circle cx="170.80" cy="296.87" r="7.25" fill="#ff00ff"/>
<circle cx="203.69" cy="273.21" r="7.25" fill="#ff00ff"/>
<circle cx="239.49" cy="262.29" r="7.25" fill="#ff00ff"/>
<circle cx="276.00" cy="264.78" r="7.25" fill="#ff00ff"/>
<circle cx="310.98" cy="280.51" r="7.25" fill="#ff00ff"/>
<circle cx="342.27" cy="308.52" r="7.25" fill="#ff00ff"/>
<circle cx="367.95" cy="347.10" r="7.25" fill="#ff00ff"/>
<circle cx="386.43" cy="393.86" r="7.25" fill="#ff00ff"/>
<circle cx="396.59" cy="445.92" r="7.25" fill="#ff00ff"/>
<circle cx="108.23" cy="452.79" r="5.30" fill="#fff" stroke="#ff00ff" stroke-width="3.60"/>
<circle cx="121.56" cy="399.85" r="5.30" fill="#fff" stroke="#ff00ff" stroke-width="3.60"/>
<circle cx="142.85" cy="351.85" r="5.30" fill="#fff" stroke="#ff00ff" stroke-width="3.60"/>
<circle cx="170.80" cy="311.74" r="5.30" fill="#fff" stroke="#ff00ff" stroke-width="3.60"/>
<circle cx="203.69" cy="281.99" r="5.30" fill="#fff" stroke="#ff00ff" stroke-width="3.60"/>
<circle cx="239.49" cy="264.44" r="5.30" fill="#fff" stroke="#ff00ff" stroke-width="3.60"/>
<circle cx="276.00" cy="260.15" r="5.30" fill="#fff" stroke="#ff00ff" stroke-width="3.60"/>
<circle cx="310.98" cy="269.40" r="5.30" fill="#fff" stroke="#ff00ff" stroke-width="3.60"/>
<circle cx="342.27" cy="291.62" r="5.30" fill="#fff" stroke="#ff00ff" stroke-width="3.60"/>
<circle cx="367.95" cy="325.43" r="5.30" fill="#fff" stroke="#ff00ff" stroke-width="3.60"/>
<circle cx="386.43" cy="368.77" r="5.30" fill="#fff" stroke="#ff00ff" stroke-width="3.60"/>
<circle cx="396.59" cy="418.95" r="5.30" fill="#fff" stroke="#ff00ff" stroke-width="3.60"/>
<circle cx="397.78" cy="472.90" r="5.30" fill="#fff" stroke="#ff00ff" stroke-width="3.60"/>
<circle cx="397.40" cy="474.40" r="5.30" fill="#fff" stroke="#ff00ff" stroke-width="3.60"/>
<circle cx="103.90" cy="458.50" r="7.25" fill="#0000ff"/>
<circle cx="104.85" cy="425.69" r="7.25" fill="#0000ff"/>
<circle cx="108.27" cy="372.13" r="7.25" fill="#0000ff"/>
<circle cx="113.91" cy="320.25" r="7.25" fill="#0000ff"/>
<circle cx="121.69" cy="270.86" r="7.25" fill="#0000ff"/>
<circle cx="131.48" cy="224.72" r="7.25" fill="#0000ff"/>
<circle cx="143.14" cy="182.56" r="7.25" fill="#0000ff"/>
<circle cx="156.47" cy="145.03" r="7.25" fill="#0000ff"/>
<circle cx="171.28" cy="112.72" r="7.25" fill="#0000ff"/>
<circle cx="187.32" cy="86.12" r="7.25" fill="#0000ff"/>
<circle cx="204.36" cy="65.66" r="7.25" fill="#0000ff"/>
<circle cx="222.13" cy="51.64" r="7.25" fill="#0000ff"/>
<circle cx="240.34" cy="44.30" r="7.25" fill="#0000ff"/>
<circle cx="258.72" cy="43.73" r="7.25" fill="#0000ff"/>
<circle cx="276.98" cy="49.96" r="7.25" fill="#0000ff"/>
<circle cx="294.84" cy="62.89" r="7.25" fill="#0000ff"/>
<circle cx="312.02" cy="82.30" r="7.25" fill="#0000ff"/>
<circle cx="328.25" cy="107.91" r="7.25" fill="#0000ff"/>
<circle cx="343.28" cy="139.31" r="7.25" fill="#0000ff"/>
<circle cx="356.87" cy="176.02" r="7.25" fill="#0000ff"/>
<circle cx="368.81" cy="217.46" r="7.25" fill="#0000ff"/>
<circle cx="378.92" cy="262.98" r="7.25" fill="#0000ff"/>
<circle cx="387.04" cy="311.89" r="7.25" fill="#0000ff"/>
<circle cx="393.05" cy="363.41" r="7.25" fill="#0000ff"/>
<circle cx="396.84" cy="416.75" r="7.25" fill="#0000ff"/>
<circle cx="398.37" cy="471.08" r="7.25" fill="#0000ff"/>
<circle cx="104.85" cy="452.79" r="5.30" fill="#fff" stroke="#0000ff" stroke-width="3.60"/>
<circle cx="108.27" cy="398.60" r="5.30" fill="#fff" stroke="#0000ff" stroke-width="3.60"/>
<circle cx="113.91" cy="345.67" r="5.30" fill="#fff" stroke="#0000ff" stroke-width="3.60"/>
<circle cx="121.69" cy="294.83" r="5.30" fill="#fff" stroke="#0000ff" stroke-width="3.60"/>
<circle cx="131.48" cy="246.88" r="5.30" fill="#fff" stroke="#0000ff" stroke-width="3.60"/>
<circle cx="143.14" cy="202.56" r="5.30" fill="#fff" stroke="#0000ff" stroke-width="3.60"/>
<circle cx="156.47" cy="162.56" r="5.30" fill="#fff" stroke="#0000ff" stroke-width="3.60"/>
<circle cx="171.28" cy="127.50" r="5.30" fill="#fff" stroke="#0000ff" stroke-width="3.60"/>
<circle cx="187.32" cy="97.93" r="5.30" fill="#fff" stroke="#0000ff" stroke-width="3.60"/>
<circle cx="204.36" cy="74.31" r="5.30" fill="#fff" stroke="#0000ff" stroke-width="3.60"/>
<circle cx="222.13" cy="57.00" r="5.30" fill="#fff" stroke="#0000ff" stroke-width="3.60"/>
<circle cx="240.34" cy="46.28" r="5.30" fill="#fff" stroke="#0000ff" stroke-width="3.60"/>
<circle cx="258.72" cy="42.31" r="5.30" fill="#fff" stroke="#0000ff" stroke-width="3.60"/>
<circle cx="276.98" cy="45.15" r="5.30" fill="#fff" stroke="#0000ff" stroke-width="3.60"/>
<circle cx="294.84" cy="54.77" r="5.30" fill="#fff" stroke="#0000ff" stroke-width="3.60"/>
<circle cx="312.02" cy="71.00" r="5.30" fill="#fff" stroke="#0000ff" stroke-width="3.60"/>
<circle cx="328.25" cy="93.60" r="5.30" fill="#fff" stroke="#0000ff" stroke-width="3.60"/>
<circle cx="343.28" cy="122.22" r="5.30" fill="#fff" stroke="#0000ff" stroke-width="3.60"/>
<circle cx="356.87" cy="156.41" r="5.30" fill="#fff" stroke="#0000ff" stroke-width="3.60"/>
<circle cx="368.81" cy="195.63" r="5.30" fill="#fff" stroke="#0000ff" stroke-width="3.60"/>
<circle cx="378.92" cy="239.28" r="5.30" fill="#fff" stroke="#0000ff" stroke-width="3.60"/>
<circle cx="387.04" cy="286.68" r="5.30" fill="#fff" stroke="#0000ff" stroke-width="3.60"/>
<circle cx="393.05" cy="337.09" r="5.30" fill="#fff" stroke="#0000ff" stroke-width="3.60"/>
<circle cx="396.84" cy="389.73" r="5.30" fill="#fff" stroke="#0000ff" stroke-width="3.60"/>
<circle cx="398.37" cy="443.77" r="5.30" fill="#fff" stroke="#0000ff" stroke-width="3.60"/>
<circle cx="398.60" cy="473.80" r="5.30" fill="#fff" stroke="#0000ff" stroke-width="3.60"/>
<g transform="translate(0,488.20) scale(1,1.060)" font-family="Liberation Sans" font-size="23.20" fill="#000" stroke="#000" stroke-width="0.55" stroke-linejoin="round"><text x="67.80" y="0">0</text></g>
<g transform="translate(0,433.58) scale(1,1.060)" font-family="Liberation Sans" font-size="23.20" fill="#000" stroke="#000" stroke-width="0.55" stroke-linejoin="round"><text x="67.80" y="0">2</text></g>
<g transform="translate(0,378.96) scale(1,1.060)" font-family="Liberation Sans" font-size="23.20" fill="#000" stroke="#000" stroke-width="0.55" stroke-linejoin="round"><text x="67.80" y="0">4</text></g>
<g transform="translate(0,324.34) scale(1,1.060)" font-family="Liberation Sans" font-size="23.20" fill="#000" stroke="#000" stroke-width="0.55" stroke-linejoin="round"><text x="67.80" y="0">6</text></g>
<g transform="translate(0,269.72) scale(1,1.060)" font-family="Liberation Sans" font-size="23.20" fill="#000" stroke="#000" stroke-width="0.55" stroke-linejoin="round"><text x="67.80" y="0">8</text></g>
<g transform="translate(0,215.10) scale(1,1.060)" font-family="Liberation Sans" font-size="23.20" fill="#000" stroke="#000" stroke-width="0.55" stroke-linejoin="round"><path transform="translate(54.90,0) scale(0.01133,-0.01104)" d="M763 0H583V1147Q518 1085 412.5 1023T223 930V1104Q374 1175 487 1276T647 1472H763Z" stroke-width="48.6"/><text x="67.80" y="0">0</text></g>
<g transform="translate(0,160.48) scale(1,1.060)" font-family="Liberation Sans" font-size="23.20" fill="#000" stroke="#000" stroke-width="0.55" stroke-linejoin="round"><path transform="translate(54.90,0) scale(0.01133,-0.01104)" d="M763 0H583V1147Q518 1085 412.5 1023T223 930V1104Q374 1175 487 1276T647 1472H763Z" stroke-width="48.6"/><text x="67.80" y="0">2</text></g>
<g transform="translate(0,105.86) scale(1,1.060)" font-family="Liberation Sans" font-size="23.20" fill="#000" stroke="#000" stroke-width="0.55" stroke-linejoin="round"><path transform="translate(54.90,0) scale(0.01133,-0.01104)" d="M763 0H583V1147Q518 1085 412.5 1023T223 930V1104Q374 1175 487 1276T647 1472H763Z" stroke-width="48.6"/><text x="67.80" y="0">4</text></g>
<g transform="translate(0,51.24) scale(1,1.060)" font-family="Liberation Sans" font-size="23.20" fill="#000" stroke="#000" stroke-width="0.55" stroke-linejoin="round"><path transform="translate(54.90,0) scale(0.01133,-0.01104)" d="M763 0H583V1147Q518 1085 412.5 1023T223 930V1104Q374 1175 487 1276T647 1472H763Z" stroke-width="48.6"/><text x="67.80" y="0">6</text></g>
<g transform="translate(0,518.30) scale(1,1.090)" font-family="Liberation Sans" font-size="23.20" fill="#000" stroke="#000" stroke-width="0.55" stroke-linejoin="round"><text x="93.59" y="0">-</text><path transform="translate(101.31,0) scale(0.01133,-0.01104)" d="M763 0H583V1147Q518 1085 412.5 1023T223 930V1104Q374 1175 487 1276T647 1472H763Z" stroke-width="48.6"/></g>
<g transform="translate(0,518.30) scale(1,1.090)" font-family="Liberation Sans" font-size="23.20" fill="#000" stroke="#000" stroke-width="0.55" stroke-linejoin="round"><text x="245.25" y="0">0</text></g>
<g transform="translate(0,518.20) scale(1,1.090)" font-family="Liberation Sans" font-size="23.20" fill="#000" stroke="#000" stroke-width="0.55" stroke-linejoin="round"><path transform="translate(392.60,0) scale(0.01133,-0.01104)" d="M763 0H583V1147Q518 1085 412.5 1023T223 930V1104Q374 1175 487 1276T647 1472H763Z" stroke-width="48.6"/></g>
<g font-family="Liberation Serif" font-size="34.90" fill="#0000ff"><text transform="translate(221.14,96.10) scale(1,0.935)" font-style="italic">N</text><text transform="translate(241.21,95.60) scale(1.140,1)">=</text><text transform="translate(262.43,96.10) scale(0.963,0.965)">4</text></g>
<g font-family="Liberation Serif" font-size="34.90" fill="#ff00ff"><text transform="translate(221.74,246.50) scale(1,0.935)" font-style="italic">N</text><text transform="translate(241.81,246.00) scale(1.140,1)">=</text><text transform="translate(262.68,246.50) scale(0.909,0.965)">3</text></g>
<g font-family="Liberation Serif" font-size="34.90" fill="#008000"><text transform="translate(220.44,355.30) scale(1,0.935)" font-style="italic">N</text><text transform="translate(240.51,354.80) scale(1.140,1)">=</text><text transform="translate(260.38,355.30) scale(1.058,0.965)">2</text></g>
<g font-family="Liberation Serif" font-size="34.90" fill="#ff0000"><text transform="translate(220.44,417.90) scale(1,0.935)" font-style="italic">N</text><text transform="translate(240.51,417.40) scale(1.140,1)">=</text><text transform="translate(263.38,417.90) scale(0.757,0.965)">1</text></g>
<g font-family="Liberation Serif" font-size="34.90" fill="#000000"><text transform="translate(220.34,450.80) scale(1,0.935)" font-style="italic">N</text><text transform="translate(240.41,450.30) scale(1.140,1)">=</text><text transform="translate(261.82,450.80) scale(0.966,0.965)">0</text></g>
<text transform="translate(217.5,550.3) scale(0.965,1)" font-family="Liberation Serif" font-size="34.5" font-style="italic" stroke="#000" stroke-width="0.2">V</text>
<text x="246" y="550.6" font-family="Liberation Serif" font-size="36">/</text>
<text transform="translate(259.4,550.3) scale(0.965,1)" font-family="Liberation Serif" font-size="34.5" font-style="italic" stroke="#000" stroke-width="0.2">V</text>
<text transform="translate(277.8,564.2) scale(1.18,1)" font-family="Liberation Serif" font-size="19" stroke="#000" stroke-width="0.15">0</text>
<g transform="translate(36.3,273.5) rotate(-90)"><g fill="none" stroke="#000"><path d="M6.70,-2.60 L9.10,-13.20" stroke-width="2.9" stroke-linecap="round"/><path d="M1.50,-10.70 C2.20,-13.60 4.60,-15.60 7.00,-14.70 C8.00,-14.30 8.60,-13.60 8.80,-12.80" stroke-width="1.25" stroke-linecap="round"/><path d="M6.90,-3.00 C6.40,-1.40 5.40,-0.50 4.20,-0.50 C3.00,-0.50 2.20,-1.40 1.90,-2.60" stroke-width="1.25" stroke-linecap="round"/><path d="M9.00,-13.00 C9.50,-14.60 10.60,-15.30 11.70,-15.20 C12.80,-15.10 13.60,-14.40 13.90,-13.40" stroke-width="1.25" stroke-linecap="round"/><path d="M7.10,-3.20 C7.30,-1.40 8.40,-0.40 9.80,-0.60 C11.60,-0.90 13.20,-3.00 14.30,-5.60" stroke-width="1.25" stroke-linecap="round"/></g><g fill="#000"><circle cx="13.90" cy="-12.80" r="1.6"/><circle cx="1.75" cy="-3.00" r="1.6"/></g><text transform="translate(12.4,12.9) scale(1.16,1)" font-family="Liberation Serif" font-size="18.5" stroke="#000" stroke-width="0.15">0</text><text x="32.3" y="0" font-family="Liberation Serif" font-size="35">/</text><text x="54.8" y="-0.3" font-family="Liberation Serif" font-size="35.4" font-style="italic">X</text></g>
</svg>
</body></html>
